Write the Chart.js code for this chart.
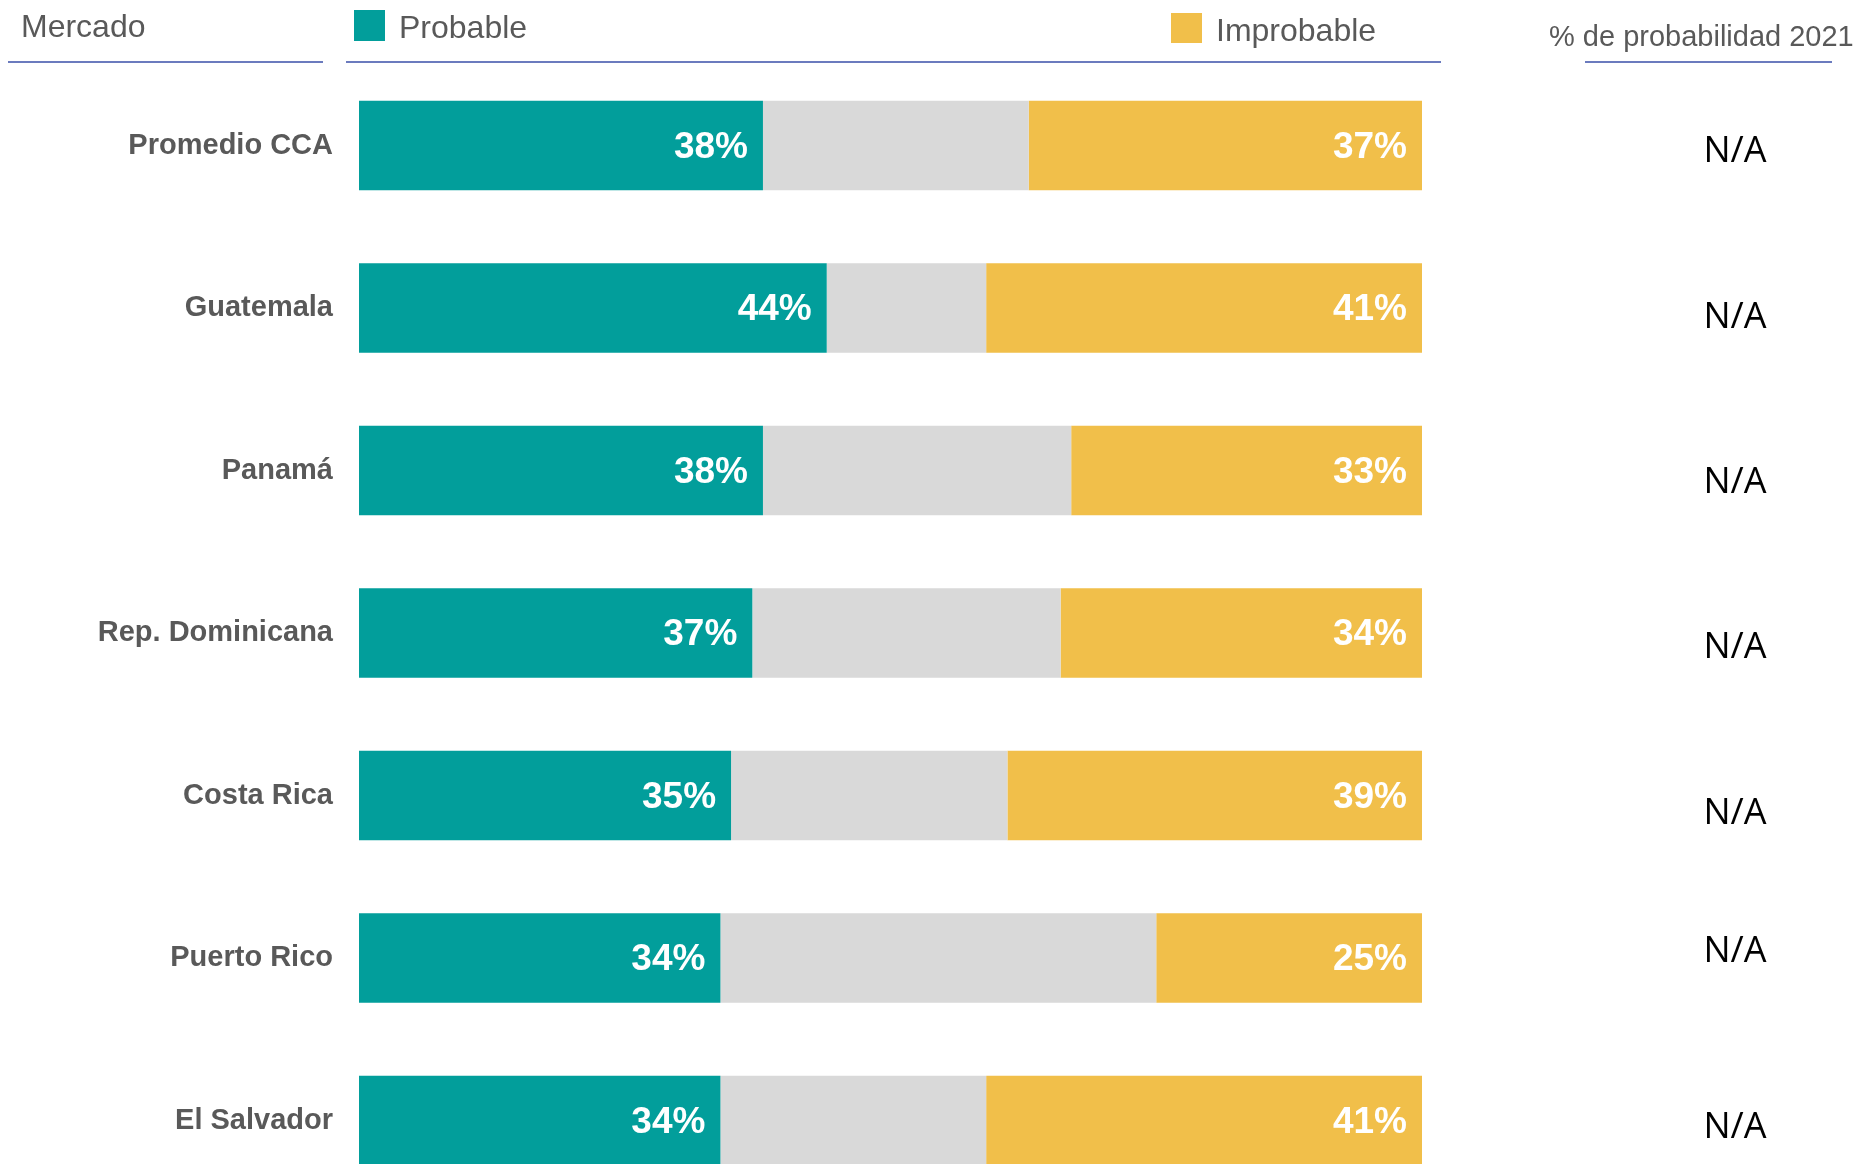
<!DOCTYPE html>
<html><head><meta charset="utf-8">
<script src="https://cdn.jsdelivr.net/npm/chart.js@4.4.1/dist/chart.umd.min.js"></script>
<style>html,body{margin:0;padding:0;background:#fff;overflow:hidden;}#wrap{width:1857px;height:1164px;}</style>
</head><body><div id="wrap"><canvas id="c" width="1857" height="1164"></canvas></div>
<script>
const categories = ['Promedio CCA','Guatemala','Panamá','Rep. Dominicana','Costa Rica','Puerto Rico','El Salvador'];
const probable   = [38,44,38,37,35,34,34];
const neutral    = [25,15,29,29,26,41,25];
const improbable = [37,41,33,34,39,25,41];
const prob2021   = ['N/A','N/A','N/A','N/A','N/A','N/A','N/A'];
const seriesNames = ['Probable','Neutral','Improbable'];
const headerLabels = ['Mercado','% de probabilidad 2021'];

const TEAL='#029E9B', GRAY='#D9D9D9', YELLOW='#F1BF4A', TXT='#595959', LINE='#6B7BBE';
const FONT='"Liberation Sans", Arial, sans-serif';

const labelsPlugin = {
  id:'labels',
  afterDatasetsDraw(chart){
    const ctx=chart.ctx;
    ctx.save();
    ctx.fillStyle='#fff';
    ctx.font='bold 37px '+FONT;
    ctx.textAlign='right';
    ctx.textBaseline='middle';
    [0,2].forEach(di=>{
      const vals=chart.data.datasets[di].data;
      chart.getDatasetMeta(di).data.forEach((bar,i)=>{
        ctx.fillText(vals[i]+'%', bar.x-15, bar.y+2);
      });
    });
    const offs=[6,10,12,15,18,-6,7];
    ctx.fillStyle='#000';
    ctx.font='36px "Open Sans", sans-serif';
    ctx.textAlign='center';
    chart.getDatasetMeta(0).data.forEach((bar,i)=>{
      ctx.fillText(prob2021[i], 1735, bar.y+offs[i]);
    });
    ctx.restore();
  },
  afterDraw(chart){
    const ctx=chart.ctx;
    ctx.save();
    ctx.fillStyle=TXT;
    ctx.textBaseline='alphabetic';
    ctx.textAlign='left';
    ctx.font='32px '+FONT;
    ctx.fillText(headerLabels[0], 21, 37);
    const ds=chart.data.datasets;
    ctx.fillStyle=ds[0].backgroundColor; ctx.fillRect(354,10,31,31);
    ctx.fillStyle=TXT; ctx.fillText(ds[0].label, 399, 38);
    ctx.fillStyle=ds[2].backgroundColor; ctx.fillRect(1171,13,31,30);
    ctx.fillStyle=TXT; ctx.fillText(ds[2].label, 1216, 41);
    ctx.font='29px '+FONT;
    ctx.fillText(headerLabels[1], 1549, 46);
    ctx.strokeStyle=LINE; ctx.lineWidth=2;
    [[8,323],[346,1441],[1585,1832]].forEach(([a,b])=>{
      ctx.beginPath(); ctx.moveTo(a,62); ctx.lineTo(b,62); ctx.stroke();
    });
    ctx.restore();
  }
};

new Chart(document.getElementById('c'),{
  type:'bar',
  data:{
    labels:categories,
    datasets:[
      {label:seriesNames[0],data:probable,backgroundColor:TEAL,stack:'s',clip:false},
      {label:seriesNames[1],data:neutral,backgroundColor:GRAY,stack:'s',clip:false},
      {label:seriesNames[2],data:improbable,backgroundColor:YELLOW,stack:'s',clip:false}
    ]
  },
  options:{
    indexAxis:'y',
    responsive:false,
    animation:false,
    datasets:{bar:{barPercentage:0.551,categoryPercentage:1,borderWidth:0}},
    layout:{padding:{top:145.5,right:435,bottom:38,left:0}},
    scales:{
      x:{stacked:true,min:0,max:100,display:false},
      y:{stacked:true,offset:false,
         grid:{display:false,drawTicks:false,offset:false},
         border:{display:false},
         ticks:{color:TXT,padding:26,font:{family:FONT,size:29,weight:'bold'}},
         afterFit(s){s.width=359;}}
    },
    plugins:{legend:{display:false},tooltip:{enabled:false}}
  },
  plugins:[labelsPlugin]
});
</script></body></html>
